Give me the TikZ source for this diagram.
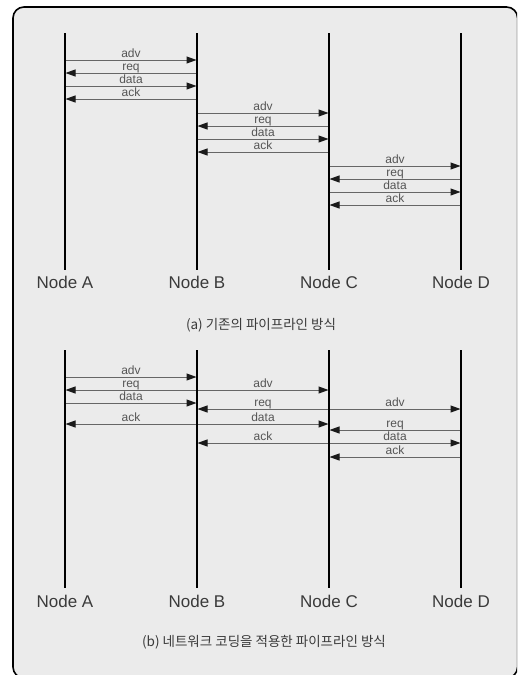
\documentclass[tikz,border=0pt]{standalone}
\usepackage{fontspec}
\setmainfont{Liberation Sans}
\newfontfamily\kr{Noto Sans CJK KR}
\usetikzlibrary{arrows.meta}
\definecolor{bgc}{HTML}{EBEBEB}
\definecolor{msgc}{HTML}{666666}
\definecolor{tipc}{HTML}{1A1A1A}
\definecolor{txtc}{HTML}{555555}
\definecolor{nodec}{HTML}{3A3A3A}
\tikzset{
  lifeline/.style={line width=2pt,black},
  msg/.style={line width=1pt,msgc,-{Triangle[length=10pt,width=7pt,color=tipc]},shorten >=0.5pt,shorten <=1pt},
  mlabel/.style={font=\fontsize{12}{13}\selectfont,text=txtc,anchor=base,inner sep=0pt},
  nlabel/.style={font=\fontsize{17}{19}\selectfont,text=nodec,inner sep=0pt},
  caption/.style={font=\kr\fontsize{13.5}{15}\selectfont,text=nodec,inner sep=0pt}
}
\begin{document}
\begin{tikzpicture}[x=1pt,y=-1pt]
\useasboundingbox (0,0) rectangle (517,675);
\fill[white] (0,0) rectangle (517,675);
\begin{scope}
\clip (0,0) rectangle (517,675);
\draw[line width=1.6pt,fill=bgc,rounded corners=11pt] (13,7) rectangle (517.6,678);
\end{scope}
% lifeline coordinates
\foreach \n/\x in {A/65,B/197,C/329,D/461}{
  \coordinate (\n-t1) at (\x,33);
  \coordinate (\n-b1) at (\x,270);
  \coordinate (\n-t2) at (\x,350);
  \coordinate (\n-b2) at (\x,588);
  \foreach \y in {60,73,86,99,113,126,139,152,166,179,192,205,377,390,403,409,424,430,443,457}{
    \coordinate (\n-\y) at (\x,\y);
  }
}
\foreach \n in {A,B,C,D}{
  \draw[lifeline] (\n-t1) -- (\n-b1);
  \draw[lifeline] (\n-t2) -- (\n-b2);
}
\node[nlabel] (nA1) at (65,282) {Node A};
\node[nlabel] (nB1) at (197,282) {Node B};
\node[nlabel] (nC1) at (329,282) {Node C};
\node[nlabel] (nD1) at (461,282) {Node D};
\node[nlabel] (nA2) at (65,601) {Node A};
\node[nlabel] (nB2) at (197,601) {Node B};
\node[nlabel] (nC2) at (329,601) {Node C};
\node[nlabel] (nD2) at (461,601) {Node D};
\node[caption] (capa) at (261,325) {(a) 기존의 파이프라인 방식};
\node[caption] (capb) at (264,642) {(b) 네트워크 코딩을 적용한 파이프라인 방식};
% (a) conventional pipeline
\draw[msg] (A-60) -- (B-60) node[mlabel,pos=0.5,yshift=3pt] (la1) {adv};
\draw[msg] (B-73) -- (A-73) node[mlabel,pos=0.5,yshift=3pt] (la2) {req};
\draw[msg] (A-86) -- (B-86) node[mlabel,pos=0.5,yshift=3pt] (la3) {data};
\draw[msg] (B-99) -- (A-99) node[mlabel,pos=0.5,yshift=3pt] (la4) {ack};
\draw[msg] (B-113) -- (C-113) node[mlabel,pos=0.5,yshift=3pt] (lb1) {adv};
\draw[msg] (C-126) -- (B-126) node[mlabel,pos=0.5,yshift=3pt] (lb2) {req};
\draw[msg] (B-139) -- (C-139) node[mlabel,pos=0.5,yshift=3pt] (lb3) {data};
\draw[msg] (C-152) -- (B-152) node[mlabel,pos=0.5,yshift=3pt] (lb4) {ack};
\draw[msg] (C-166) -- (D-166) node[mlabel,pos=0.5,yshift=3pt] (lc1) {adv};
\draw[msg] (D-179) -- (C-179) node[mlabel,pos=0.5,yshift=3pt] (lc2) {req};
\draw[msg] (C-192) -- (D-192) node[mlabel,pos=0.5,yshift=3pt] (lc3) {data};
\draw[msg] (D-205) -- (C-205) node[mlabel,pos=0.5,yshift=3pt] (lc4) {ack};
% (b) network-coded pipeline
\draw[msg] (A-377) -- (B-377) node[mlabel,pos=0.5,yshift=3pt] (m1) {adv};
\draw[msg] (B-390) -- (A-390) node[mlabel,pos=0.5,yshift=3pt] (m2) {req};
\draw[msg] (B-390) -- (C-390) node[mlabel,pos=0.5,yshift=3pt] (m3) {adv};
\draw[msg] (A-403) -- (B-403) node[mlabel,pos=0.5,yshift=3pt] (m4) {data};
\draw[msg] (C-409) -- (B-409) node[mlabel,pos=0.5,yshift=3pt] (m5) {req};
\draw[msg] (C-409) -- (D-409) node[mlabel,pos=0.5,yshift=3pt] (m6) {adv};
\draw[msg] (B-424) -- (A-424) node[mlabel,pos=0.5,yshift=3pt] (m7) {ack};
\draw[msg] (B-424) -- (C-424) node[mlabel,pos=0.5,yshift=3pt] (m8) {data};
\draw[msg] (D-430) -- (C-430) node[mlabel,pos=0.5,yshift=3pt] (m9) {req};
\draw[msg] (C-443) -- (B-443) node[mlabel,pos=0.5,yshift=3pt] (m10) {ack};
\draw[msg] (C-443) -- (D-443) node[mlabel,pos=0.5,yshift=3pt] (m11) {data};
\draw[msg] (D-457) -- (C-457) node[mlabel,pos=0.5,yshift=3pt] (m12) {ack};
\end{tikzpicture}
\end{document}
